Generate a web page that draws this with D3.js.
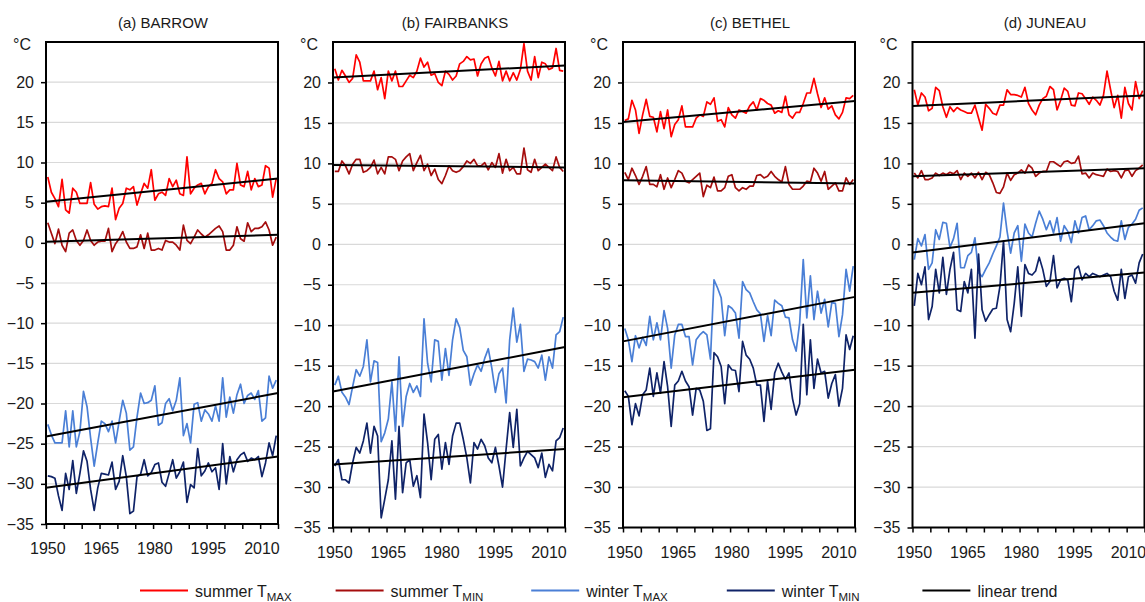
<!DOCTYPE html>
<html>
<head>
<meta charset="utf-8">
<script src="https://cdn.jsdelivr.net/npm/d3@7"></script>
<style>
  body { margin: 0; background: #fff; }
  text { font-family: "Liberation Sans", Arial, sans-serif; fill: #1a1a1a; }
</style>
</head>
<body>
<div id="chart"></div>
<script>
// categories
var years = d3.range(1950, 2015);
var yTicks = [-35, -30, -25, -20, -15, -10, -5, 0, 5, 10, 15, 20];
var xLabels = [1950, 1965, 1980, 1995, 2010];
var stations = ["(a) BARROW", "(b) FAIRBANKS", "(c) BETHEL", "(d) JUNEAU"];
var seriesNames = ["summer T", "summer T", "winter T", "winter T", "linear trend"];
var seriesSubs = ["MAX", "MIN", "MAX", "MIN", ""];

// series values, 1950-2014
var barrowSumMax = [8.2,6.3,5.5,4.5,7.9,4.1,3.7,6.8,6.3,4.9,4.9,4.9,7.5,4.8,4.2,4.5,4.6,4.5,6.8,2.9,4.3,4.9,6.8,6.6,7.0,4.7,6.1,7.4,6.8,9.1,5.3,6.1,6.3,5.9,8.0,7.0,7.8,6.1,5.9,10.7,6.1,6.8,7.2,7.4,6.1,7.0,7.4,9.1,8.0,7.6,6.1,6.6,6.6,9.9,7.2,7.0,8.9,6.6,8.0,7.0,7.2,9.6,9.3,5.7,8.0];
var barrowSumMin = [2.5,1.2,-0.1,1.7,-0.3,-1.1,1.2,1.6,0.3,-0.3,0.3,1.6,0.3,-0.3,0.1,0.2,0.2,1.8,-1.1,-0.1,0.5,1.4,0.1,-0.7,-0.7,-0.5,1.0,-0.7,1.2,-0.9,-0.9,-0.7,-0.9,0.3,0.1,0.1,-0.3,-0.9,2.2,0.3,-0.1,0.7,1.6,1.1,0.7,1.0,1.4,1.8,2.1,1.4,-0.9,-0.9,-0.3,2.0,0.5,0.2,2.5,1.4,1.8,1.8,2.0,2.6,1.6,-0.3,0.7];
var barrowWinMax = [-22.6,-23.9,-24.9,-24.9,-24.9,-20.9,-25.4,-20.9,-25.4,-23.5,-18.5,-20.4,-24.3,-27.8,-24.9,-22.2,-22.5,-23.5,-22.2,-24.9,-22.2,-19.6,-21.2,-25.8,-25.4,-21.7,-18.7,-20.0,-19.9,-19.6,-17.8,-22.7,-22.4,-20.0,-19.4,-20.9,-19.6,-16.8,-24.0,-22.5,-24.9,-20.1,-19.9,-22.2,-20.8,-21.3,-22.2,-20.3,-22.2,-16.8,-21.7,-19.2,-21.2,-18.9,-17.6,-20.0,-19.0,-18.7,-19.5,-18.4,-22.2,-21.8,-16.6,-18.1,-17.1];
var barrowWinMin = [-29.0,-29.1,-29.3,-31.5,-33.3,-28.7,-30.7,-27.1,-31.2,-28.7,-25.9,-27.2,-30.7,-33.3,-30.5,-28.7,-28.8,-28.9,-27.3,-30.7,-29.7,-26.5,-29.1,-33.7,-33.4,-29.1,-28.8,-27.0,-29.0,-28.6,-27.6,-27.4,-29.8,-30.3,-28.7,-27.0,-29.3,-28.5,-27.3,-32.3,-30.1,-30.5,-25.6,-29.0,-28.4,-27.4,-28.5,-28.0,-30.7,-25.0,-30.0,-26.6,-28.5,-27.0,-26.4,-26.1,-27.2,-26.8,-27.0,-26.6,-29.1,-27.4,-24.9,-26.5,-24.0];

var fairbanksSumMax = [21.7,20.3,21.5,20.8,20.0,20.5,23.4,22.5,20.2,20.2,20.2,21.4,19.1,20.6,18.0,21.4,20.2,21.4,19.5,19.5,20.2,20.9,20.6,21.4,23.0,21.9,22.5,20.9,21.1,20.0,19.6,21.4,21.0,20.3,20.8,22.3,22.6,23.2,22.8,22.9,20.8,22.3,23.0,23.2,21.8,20.8,22.6,20.2,21.4,20.2,21.2,20.3,21.6,24.8,21.4,20.3,23.2,20.6,22.5,22.3,21.6,21.8,24.2,21.5,21.4];
var fairbanksSumMin = [9.0,9.0,10.3,9.7,8.7,9.9,10.5,10.5,8.9,9.1,9.5,10.4,8.7,9.5,8.7,10.8,10.8,10.5,9.1,10.3,10.8,11.2,9.1,10.1,11.0,9.1,9.9,8.5,9.3,8.0,7.5,8.5,9.7,9.1,8.9,9.1,9.6,10.3,10.0,10.5,9.7,9.7,10.1,9.2,10.1,9.5,11.2,8.8,10.5,9.1,9.5,8.7,8.7,11.9,9.2,8.9,10.5,9.1,9.5,9.9,9.5,9.1,10.8,9.5,9.0];
var fairbanksWinMax = [-17.4,-16.3,-18.3,-18.9,-19.8,-17.6,-15.5,-16.3,-15.1,-11.8,-17.0,-14.4,-14.6,-24.4,-23.3,-21.6,-17.0,-23.1,-13.9,-22.5,-18.8,-17.2,-18.3,-17.5,-18.8,-9.2,-14.7,-17.0,-11.8,-12.0,-16.8,-12.9,-16.2,-11.8,-9.2,-10.3,-13.1,-13.9,-17.4,-16.0,-14.9,-15.7,-14.1,-12.9,-15.3,-18.3,-16.0,-15.3,-19.6,-11.8,-7.9,-12.1,-9.9,-15.7,-14.2,-14.3,-14.5,-15.3,-13.7,-16.8,-13.9,-15.3,-11.2,-10.8,-9.0];
var fairbanksWinMin = [-27.4,-26.6,-29.1,-29.1,-29.5,-27.0,-25.1,-25.8,-24.3,-22.1,-25.8,-22.5,-23.7,-33.8,-31.5,-29.1,-24.3,-31.5,-22.5,-30.7,-27.0,-26.6,-29.9,-28.6,-31.3,-21.0,-24.5,-29.1,-24.1,-23.5,-27.8,-24.5,-27.2,-23.7,-22.1,-22.1,-24.1,-26.4,-29.5,-24.5,-25.3,-24.1,-24.9,-26.4,-27.0,-25.1,-27.4,-30.0,-25.3,-20.8,-25.1,-20.4,-27.4,-26.4,-25.6,-26.0,-26.4,-27.6,-25.8,-28.8,-27.2,-28.0,-24.3,-23.9,-22.7];

var bethelSumMax = [15.3,15.5,17.8,16.6,13.7,16.0,17.9,15.8,15.7,13.9,16.4,14.3,16.6,13.3,14.8,15.4,17.1,14.5,14.5,14.5,15.6,16.0,15.8,17.6,17.3,18.1,15.2,15.4,14.5,16.9,16.0,15.6,16.6,16.4,16.2,17.1,17.6,16.6,18.0,17.8,17.4,17.2,16.2,16.5,16.3,18.3,16.0,15.6,16.3,16.3,17.4,18.7,18.7,20.5,18.6,16.9,18.1,16.7,17.1,16.0,15.5,16.3,18.1,18.0,18.4];
var bethelSumMin = [8.9,8.0,9.4,8.5,7.4,8.4,9.6,7.4,7.4,7.1,8.6,6.8,8.2,7.0,8.0,9.1,8.8,7.8,7.6,8.0,8.4,8.8,5.9,7.3,7.0,8.3,6.6,6.6,7.0,8.4,8.6,7.0,6.6,7.0,6.8,7.2,7.2,8.5,8.6,8.2,8.4,9.0,8.4,8.0,7.7,9.6,7.4,6.8,6.8,6.8,7.2,7.8,7.7,9.4,8.8,7.8,9.0,6.8,7.2,7.6,6.6,6.6,8.2,7.4,8.0];
var bethelWinMax = [-10.4,-11.8,-14.5,-11.3,-12.8,-11.5,-12.5,-8.9,-11.8,-9.7,-11.8,-8.2,-10.4,-15.3,-11.2,-9.9,-9.9,-11.4,-11.4,-14.9,-11.8,-11.2,-10.8,-11.2,-14.2,-4.4,-5.4,-6.6,-11.3,-7.6,-7.9,-8.5,-11.6,-4.6,-5.6,-6.0,-7.1,-8.1,-8.6,-12.0,-8.8,-11.3,-6.9,-7.3,-7.6,-9.0,-9.1,-11.8,-13.2,-9.7,-1.9,-9.1,-3.9,-9.3,-5.8,-8.5,-6.8,-10.2,-7.2,-7.3,-11.4,-8.7,-3.1,-5.8,-2.7];
var bethelWinMin = [-18.1,-18.8,-22.3,-19.7,-21.2,-18.6,-18.0,-15.3,-18.8,-15.9,-18.4,-14.5,-17.6,-22.5,-17.4,-16.9,-15.7,-16.9,-17.6,-21.1,-17.8,-18.0,-19.4,-23.0,-22.8,-13.4,-13.9,-15.1,-19.7,-14.9,-15.5,-15.6,-18.2,-12.0,-13.7,-14.2,-15.3,-17.4,-17.4,-21.9,-16.9,-20.4,-15.9,-14.7,-15.8,-16.7,-15.9,-19.1,-21.1,-19.7,-9.9,-18.6,-11.8,-17.8,-14.2,-15.9,-15.7,-19.0,-17.2,-16.1,-20.0,-17.8,-11.2,-13.0,-11.3];

var juneauSumMax = [19.1,17.2,18.7,18.2,16.5,16.8,19.4,19.0,17.0,15.7,17.0,16.4,16.9,16.6,16.4,16.2,16.2,17.2,15.6,14.1,17.3,16.8,16.2,16.0,17.2,17.2,19.1,18.5,18.5,18.4,18.2,19.4,17.4,16.6,16.0,17.2,18.0,18.3,19.5,19.1,16.6,17.8,19.3,18.9,17.2,17.1,18.7,18.6,18.0,17.3,18.2,17.8,17.2,18.4,21.4,19.1,16.9,18.4,15.6,19.4,17.4,16.6,20.1,18.0,19.0];
var juneauSumMin = [8.8,8.2,9.1,8.0,8.0,8.2,8.8,8.5,8.8,8.6,8.9,8.7,9.1,8.0,8.8,8.4,8.8,8.2,8.9,8.0,8.9,8.6,7.6,6.4,6.3,7.1,8.8,7.9,8.6,8.8,9.2,8.8,9.8,9.4,8.4,8.8,9.0,9.0,10.2,10.2,9.9,9.6,10.2,10.3,10.0,10.1,10.9,8.7,8.8,8.2,8.8,8.6,8.5,8.4,9.3,9.0,9.1,9.0,8.2,9.1,9.2,8.4,9.1,9.4,9.8];
var juneauWinMax = [-1.9,0.7,-0.2,1.2,-3.1,-2.3,1.8,0.6,2.7,2.6,-0.4,0.7,2.6,-2.9,-2.9,-1.4,-1.0,0.8,-3.5,-4.0,-3.1,-2.3,-1.2,-0.2,0.9,5.1,1.6,-1.1,1.4,2.3,-2.1,2.5,1.4,0.9,2.6,4.1,3.1,1.8,2.9,1.4,3.3,0.4,2.3,1.6,0.2,2.9,1.4,3.3,3.5,1.8,2.3,2.9,3.0,2.3,1.4,0.9,0.5,0.4,2.9,0.6,2.1,2.5,3.1,4.2,4.5];
var juneauWinMin = [-7.6,-3.6,-5.0,-2.8,-9.3,-7.7,-3.1,-6.0,-1.6,-6.2,-3.1,-1.0,-8.1,-8.3,-4.6,-6.0,-3.1,-11.6,-1.2,-8.1,-9.5,-8.7,-8.0,-7.9,-5.2,0.4,-9.3,-10.8,-7.3,-2.8,-8.9,-2.5,-3.6,-3.8,-3.3,-1.6,-3.1,-5.2,-4.6,-1.4,-5.4,-4.4,-4.2,-4.4,-7.1,-3.1,-2.7,-4.4,-3.6,-4.0,-3.6,-3.8,-4.0,-3.8,-3.6,-4.0,-5.8,-6.9,-3.1,-6.7,-4.0,-3.8,-4.8,-2.3,-1.2];

// linear trend, value at start and end of the period (sumMax, sumMin, winMax, winMin)
var barrowTrend = [[5.1, 8.0], [0.15, 1.0], [-24.1, -18.7], [-30.5, -26.6]];
var fairbanksTrend = [[20.6, 22.1], [9.8, 9.5], [-18.2, -12.7], [-27.2, -25.3]];
var bethelTrend = [[15.1, 17.7], [7.9, 7.5], [-12.0, -6.5], [-18.9, -15.5]];
var juneauTrend = [[17.1, 18.4], [8.4, 9.4], [-1.0, 2.6], [-6.0, -3.5]];

function init(){

  var W = 1145, H = 602;
  var colors = ["#ff0000", "#a50d0d", "#4a7fd6", "#0f2368", "#000000"];

  var stationSeries = [
    [barrowSumMax, barrowSumMin, barrowWinMax, barrowWinMin],
    [fairbanksSumMax, fairbanksSumMin, fairbanksWinMax, fairbanksWinMin],
    [bethelSumMax, bethelSumMin, bethelWinMax, bethelWinMin],
    [juneauSumMax, juneauSumMin, juneauWinMax, juneauWinMin]
  ];
  var stationTrends = [barrowTrend, fairbanksTrend, bethelTrend, juneauTrend];

  // panel frames (plot areas)
  var panels = [
    {left: 46,    bottom: 524,   titleX: 163},
    {left: 333,   bottom: 527.5, titleX: 455},
    {left: 623,   bottom: 527.5, titleX: 750},
    {left: 912.5, bottom: 527.5, titleX: 1045}
  ];
  var pw = 232, top = 42;

  var svg = d3.select("#chart")
    .append("svg")
      .attr("width", W)
      .attr("height", H);

  panels.forEach(function(p, k){

    var x = d3.scaleLinear()
      .domain([1949.5, 2014.5])
      .range([p.left, p.left + pw]);
    var y = d3.scaleLinear()
      .domain([-35, 25])
      .range([p.bottom, top]);

    var g = svg.append("g");

    // gridlines
    g.selectAll("line.grid")
      .data(yTicks.filter(function(d){ return d > -35; }))
      .enter()
      .append("line")
        .attr("x1", p.left).attr("x2", p.left + pw)
        .attr("y1", function(d){ return y(d); })
        .attr("y2", function(d){ return y(d); })
        .style("stroke", "#d9d9d9")
        .style("stroke-width", 1.2);

    // y axis
    var ya = g.append("g")
      .attr("transform", "translate(" + p.left + ",0)")
      .call(d3.axisLeft(y).tickValues(yTicks).tickSize(5).tickPadding(7));
    ya.select(".domain").remove();
    ya.selectAll("line").style("stroke", "#000").style("stroke-width", 1.5);
    ya.selectAll("text").style("font-size", "16px")
      .style("font-family", "'Liberation Sans', Arial, sans-serif").attr("fill", "#1a1a1a");

    // x axis: tick marks every 5 years, labels every 15
    var xa = g.append("g")
      .attr("transform", "translate(0," + p.bottom + ")")
      .call(d3.axisBottom(x).tickValues(d3.range(1949.5, 2015, 5)).tickSize(5).tickFormat(""));
    xa.select(".domain").remove();
    xa.selectAll("line").style("stroke", "#000").style("stroke-width", 1.5);

    g.selectAll("text.xlab")
      .data(xLabels)
      .enter()
      .append("text")
        .attr("class", "xlab")
        .attr("x", function(d){ return x(d); })
        .attr("y", p.bottom + 30)
        .attr("text-anchor", "middle")
        .style("font-size", "16px")
        .text(function(d){ return d; });

    // data lines
    var line = d3.line()
      .x(function(d, i){ return x(years[i]); })
      .y(function(d){ return y(d); });

    stationSeries[k].forEach(function(s, j){
      g.append("path")
        .datum(s)
        .attr("d", line)
        .style("fill", "none")
        .style("stroke", colors[j])
        .style("stroke-width", 1.7)
        .style("stroke-linejoin", "round");
    });

    // linear trends
    stationTrends[k].forEach(function(t){
      g.append("line")
        .attr("x1", x(1949.5)).attr("x2", x(2014.5))
        .attr("y1", y(t[0])).attr("y2", y(t[1]))
        .style("stroke", "#000")
        .style("stroke-width", 2);
    });

    // frame
    g.append("rect")
      .attr("x", p.left).attr("y", top)
      .attr("width", pw).attr("height", p.bottom - top)
      .style("fill", "none")
      .style("stroke", "#000")
      .style("stroke-width", 2);

    // unit and title
    g.append("text")
      .attr("x", p.left - 33)
      .attr("y", top + 8)
      .style("font-size", "16px")
      .text("°C");

    g.append("text")
      .attr("x", p.titleX)
      .attr("y", 28)
      .attr("text-anchor", "middle")
      .style("font-size", "15px")
      .text(stations[k]);
  });

  // legend
  var legend = svg.selectAll("g.leg")
    .data(seriesNames)
    .enter()
    .append("g")
      .attr("class", "leg")
      .attr("transform", function(d, i){ return "translate(" + (140 + i * 195.6) + ",590.5)"; });

  legend.append("line")
    .attr("x1", 0).attr("x2", 48)
    .style("stroke", function(d, i){ return colors[i]; })
    .style("stroke-width", 2);

  var lt = legend.append("text")
    .attr("x", 55)
    .attr("y", 6)
    .style("font-size", "16px");
  lt.append("tspan").text(function(d){ return d; });
  lt.append("tspan")
    .attr("dy", 4)
    .style("font-size", "11.5px")
    .text(function(d, i){ return seriesSubs[i]; });
}
window.onload = init;
</script>
</body>
</html>
